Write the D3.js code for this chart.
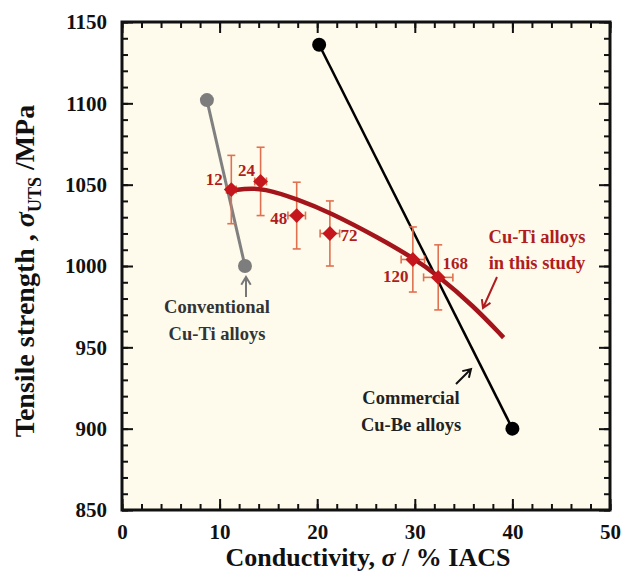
<!DOCTYPE html>
<html><head><meta charset="utf-8">
<script src="https://cdn.jsdelivr.net/npm/d3@7/dist/d3.min.js"></script>
<style>body{margin:0;background:#fff}svg{display:block}</style>
</head><body><svg id="c" width="630" height="575"></svg>
<script>
// ---- data ----
const xTicks = [0, 10, 20, 30, 40, 50];
const yTicks = [850, 900, 950, 1000, 1050, 1100, 1150];
const conventionalX = [8.7, 12.6];
const conventionalY = [1102, 1000];
const commercialX = [20.2, 40];
const commercialY = [1136, 900];
const studyLabels = ["12", "24", "48", "72", "120", "168"];
const studyX = [11.2, 14.2, 17.9, 21.3, 29.8, 32.4];
const studyY = [1047, 1052, 1031, 1020, 1004, 993];
const studyYErr = [21, 21, 20.5, 20, 20, 20];
const studyXErr = [0.5, 0.6, 0.9, 1.0, 1.2, 1.5];
const fitX = [10.7, 12.5, 14.5, 18, 21.3, 26.4, 29.8, 32.3, 36, 39.1];
const fitY = [1045.6, 1047.6, 1047.8, 1041, 1033, 1017, 1005, 994.5, 975.5, 956];

// ---- layout ----
const svg = d3.select("#c");
const L = 122, R = 610, T = 22, B = 510;
const x = d3.scaleLinear().domain([0, 50]).range([L, R]);
const y = d3.scaleLinear().domain([850, 1150]).range([B, T]);
const serif = "'Liberation Serif','Times New Roman',serif";

svg.append("rect").attr("x", L).attr("y", T).attr("width", R - L).attr("height", B - T).attr("fill", "#fefbec");

// minor/major ticks (inward) on all sides
const minorX = d3.range(0, 50.01, 2), minorY = d3.range(850, 1150.01, 10);
function ax(gen, tx, ty, vals, size) {
  const g = svg.append("g").attr("transform", `translate(${tx},${ty})`)
    .call(gen.tickValues(vals).tickSize(size).tickFormat(""));
  g.select(".domain").remove();
  g.selectAll(".tick line").attr("stroke", "#111").attr("stroke-width", 2);
  return g;
}
ax(d3.axisBottom(x), 0, B, minorX, -6);
ax(d3.axisBottom(x), 0, B, xTicks, -11);
ax(d3.axisTop(x), 0, T, minorX, -6);
ax(d3.axisTop(x), 0, T, xTicks, -11);
ax(d3.axisLeft(y), L, 0, minorY, -6);
ax(d3.axisLeft(y), L, 0, yTicks, -11);
ax(d3.axisRight(y), R, 0, minorY, -6);
ax(d3.axisRight(y), R, 0, yTicks, -11);

// tick labels via axes
const gxl = svg.append("g").attr("transform", `translate(0,${B})`)
  .call(d3.axisBottom(x).tickValues(xTicks).tickSize(0).tickPadding(14).tickFormat(d3.format("d")));
gxl.select(".domain").remove();
gxl.selectAll("text").attr("font-family", serif).attr("font-weight", "bold").attr("font-size", 21).attr("fill", "#111");
const gyl = svg.append("g").attr("transform", `translate(${L},0)`)
  .call(d3.axisLeft(y).tickValues(yTicks).tickSize(0).tickPadding(15).tickFormat(d3.format("d")));
gyl.select(".domain").remove();
gyl.selectAll("text").attr("font-family", serif).attr("font-weight", "bold").attr("font-size", 21).attr("fill", "#111");

// frame
svg.append("rect").attr("x", L).attr("y", T).attr("width", R - L).attr("height", B - T)
  .attr("fill", "none").attr("stroke", "#111").attr("stroke-width", 3);

const line = d3.line().x(d => x(d[0])).y(d => y(d[1]));

// commercial Cu-Be
svg.append("path").datum(d3.zip(commercialX, commercialY)).attr("d", line)
  .attr("stroke", "#000").attr("stroke-width", 2.5).attr("fill", "none");
// conventional Cu-Ti
svg.append("path").datum(d3.zip(conventionalX, conventionalY)).attr("d", line)
  .attr("stroke", "#808080").attr("stroke-width", 3).attr("fill", "none");

// error bars
const errC = "#e0704f";
const eb = svg.append("g").attr("stroke", errC).attr("stroke-width", 1.6).attr("fill", "none");
studyX.forEach((vx, i) => {
  const cx = x(vx), cy = y(studyY[i]);
  const y0 = y(studyY[i] - studyYErr[i]), y1 = y(studyY[i] + studyYErr[i]);
  const x0 = x(vx - studyXErr[i]), x1 = x(vx + studyXErr[i]);
  eb.append("line").attr("x1", cx).attr("x2", cx).attr("y1", y0).attr("y2", y1);
  eb.append("line").attr("x1", cx - 4).attr("x2", cx + 4).attr("y1", y0).attr("y2", y0);
  eb.append("line").attr("x1", cx - 4).attr("x2", cx + 4).attr("y1", y1).attr("y2", y1);
  eb.append("line").attr("x1", x0).attr("x2", x1).attr("y1", cy).attr("y2", cy);
  eb.append("line").attr("x1", x0).attr("x2", x0).attr("y1", cy - 4).attr("y2", cy + 4);
  eb.append("line").attr("x1", x1).attr("x2", x1).attr("y1", cy - 4).attr("y2", cy + 4);
});

// fitted curve
svg.append("path").datum(d3.zip(fitX, fitY))
  .attr("d", d3.line().x(d => x(d[0])).y(d => y(d[1])).curve(d3.curveBasis))
  .attr("stroke", "#a3151a").attr("stroke-width", 4.5).attr("fill", "none").attr("stroke-linecap", "butt");

// diamonds
const sq = d3.symbol().type(d3.symbolSquare).size(110);
studyX.forEach((vx, i) => {
  svg.append("path").attr("d", sq()).attr("fill", "#c4161c")
    .attr("transform", `translate(${x(vx)},${y(studyY[i])}) rotate(45)`);
});

// endpoints
commercialX.forEach((vx, i) => svg.append("circle").attr("cx", x(vx)).attr("cy", y(commercialY[i])).attr("r", 7).attr("fill", "#000"));
conventionalX.forEach((vx, i) => svg.append("circle").attr("cx", x(vx)).attr("cy", y(conventionalY[i])).attr("r", 7).attr("fill", "#7d7d7d"));

// point labels
const labelOffsets = [[-17, -5], [-14, -5], [-18, 8], [19, 8], [-17, 23], [17, -8]];
studyLabels.forEach((t, i) => {
  svg.append("text").attr("x", x(studyX[i]) + labelOffsets[i][0]).attr("y", y(studyY[i]) + labelOffsets[i][1])
    .attr("text-anchor", "middle").attr("font-family", serif).attr("font-weight", "bold")
    .attr("font-size", 17).attr("fill", "#b01d20").text(t);
});

// annotations
function txt(cx, by, s, col) {
  svg.append("text").attr("x", cx).attr("y", by).attr("text-anchor", "middle")
    .attr("font-family", serif).attr("font-weight", "bold").attr("font-size", 18.5).attr("fill", col).text(s);
}
function arrow(x1, y1, x2, y2, col, w) {
  const a = Math.atan2(y2 - y1, x2 - x1), h = 9, s = 0.55;
  const p = d3.path();
  p.moveTo(x1, y1); p.lineTo(x2, y2);
  p.moveTo(x2 - h * Math.cos(a - s), y2 - h * Math.sin(a - s)); p.lineTo(x2, y2);
  p.lineTo(x2 - h * Math.cos(a + s), y2 - h * Math.sin(a + s));
  svg.append("path").attr("d", p.toString()).attr("stroke", col).attr("stroke-width", w).attr("fill", "none");
}
txt(217, 313, "Conventional", "#333");
txt(217, 340, "Cu-Ti alloys", "#333");
arrow(246, 297, 246, 277, "#777", 2);
txt(411, 404, "Commercial", "#222");
txt(411, 431, "Cu-Be alloys", "#222");
arrow(456, 384, 471, 369, "#111", 2);
txt(537, 243, "Cu-Ti alloys", "#b01d20");
txt(537, 269, "in this study", "#b01d20");
arrow(497, 277, 483, 308, "#b01d20", 2);

// axis titles
svg.append("text").attr("x", (L + R) / 2 + 2).attr("y", 566).attr("text-anchor", "middle")
  .attr("font-family", serif).attr("font-weight", "bold").attr("font-size", 26).attr("fill", "#111")
  .call(t => {
    t.append("tspan").text("Conductivity, ");
    t.append("tspan").attr("font-style", "italic").text("σ");
    t.append("tspan").text(" / % IACS");
  });
svg.append("text").attr("transform", `translate(34,271) rotate(-90)`).attr("text-anchor", "middle")
  .attr("font-family", serif).attr("font-weight", "bold").attr("font-size", 28).attr("fill", "#111")
  .call(t => {
    t.append("tspan").text("Tensile strength , ");
    t.append("tspan").attr("font-style", "italic").text("σ");
    t.append("tspan").attr("font-size", 18).attr("dy", 7).text("UTS");
    t.append("tspan").attr("dy", -7).text(" /MPa");
  });
</script></body></html>
